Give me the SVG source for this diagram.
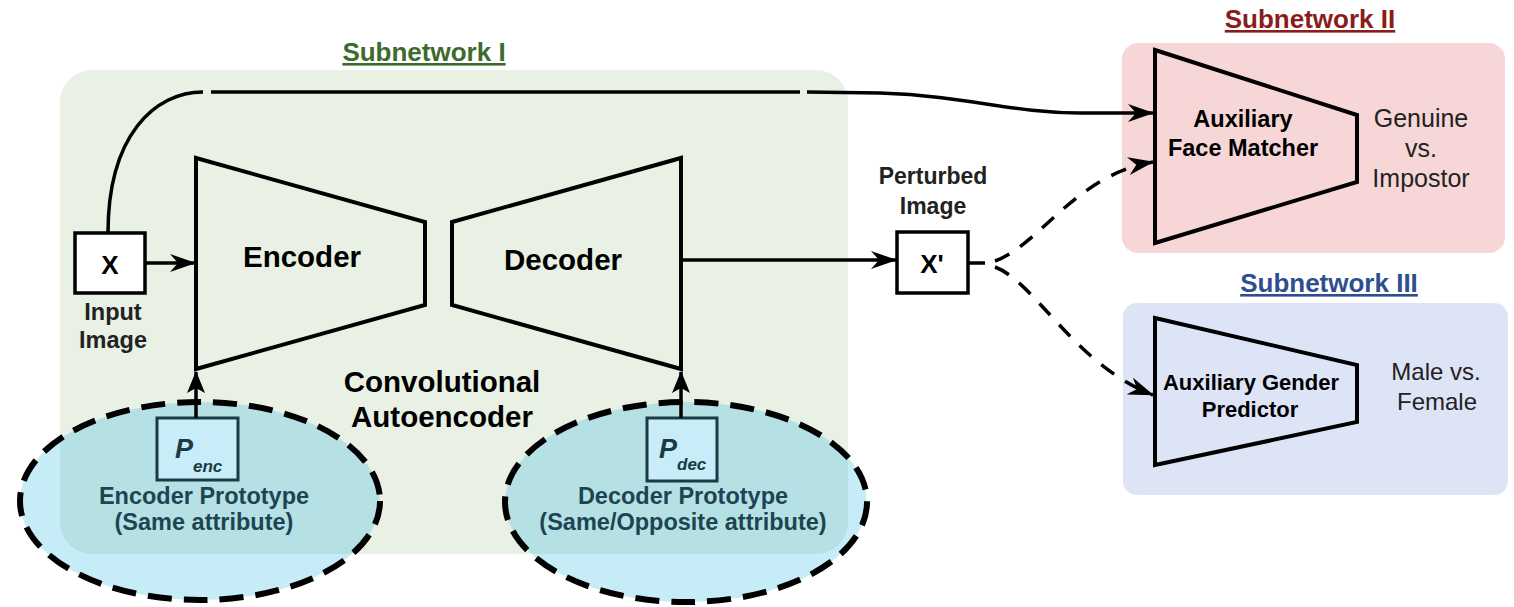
<svg xmlns="http://www.w3.org/2000/svg" width="1514" height="607" viewBox="0 0 1514 607">
<style>
text{font-family:"Liberation Sans",Arial,sans-serif;}
.b{font-weight:bold;}
.title{font-weight:bold;font-size:26px;text-anchor:middle;text-decoration:underline;}
.trap{fill:none;stroke:#000;stroke-width:4;stroke-linejoin:miter;}
.conn{fill:none;stroke:#000;stroke-width:3.5;}
.dash{fill:none;stroke:#000;stroke-width:3.5;stroke-dasharray:16 13;}
.proto{fill:rgb(36,182,228);fill-opacity:0.26;stroke:#000;stroke-width:6;stroke-dasharray:24 12;}
.pbox{fill:#c8ecf8;stroke:#1a3a44;stroke-width:3;}
.ptxt{fill:#1d4452;font-weight:bold;font-size:23.5px;text-anchor:middle;}
.box{fill:#fff;stroke:#000;stroke-width:3.5;}
</style>
<defs>
<marker id="arr" viewBox="0 0 26 18" refX="25" refY="9" markerWidth="26" markerHeight="18" markerUnits="userSpaceOnUse" orient="auto">
<path d="M0,0 L26,9 L0,18 L8,9 z" fill="#000"/>
</marker>
<marker id="arrS" viewBox="0 0 22 18" refX="21" refY="9" markerWidth="22" markerHeight="18" markerUnits="userSpaceOnUse" orient="auto">
<path d="M0,0 L22,9 L0,18 L5,9 z" fill="#000"/>
</marker>
</defs>
<rect width="1514" height="607" fill="#fff"/>

<g id="subnetwork1">
<rect x="60" y="70" width="788" height="484" rx="32" fill="#e8f1e4"/>
<text class="title" x="424" y="61" fill="#3d6b2e">Subnetwork I</text>
<text class="b" x="442" y="392" font-size="29.5" text-anchor="middle">Convolutional</text>
<text class="b" x="442" y="427" font-size="29.5" text-anchor="middle">Autoencoder</text>
</g>

<g id="subnetwork2">
<rect x="1122" y="43" width="383" height="210" rx="16" fill="#f6d6d6"/>
<text class="title" x="1310" y="28" fill="#8b1c1c">Subnetwork II</text>
</g>

<g id="subnetwork3">
<rect x="1123" y="303" width="385" height="192" rx="14" fill="#dce4f6"/>
<text class="title" x="1329" y="292" fill="#2e4f8f">Subnetwork III</text>
</g>

<g id="enc-proto">
<ellipse class="proto" cx="200" cy="501" rx="180" ry="99"/>
<text class="ptxt" x="204" y="504">Encoder Prototype</text>
<text class="ptxt" x="204" y="530">(Same attribute)</text>
</g>

<g id="dec-proto">
<ellipse class="proto" cx="686" cy="502" rx="181" ry="100"/>
<text class="ptxt" x="683" y="504">Decoder Prototype</text>
<text class="ptxt" x="683" y="530">(Same/Opposite attribute)</text>
</g>

<g id="input">
<rect class="box" x="75" y="233" width="70" height="60"/>
<text class="b" x="110" y="274" font-size="26" text-anchor="middle">X</text>
<text class="b" x="113" y="320" font-size="23.5" text-anchor="middle" fill="#222">Input</text>
<text class="b" x="113" y="348" font-size="23.5" text-anchor="middle" fill="#222">Image</text>
</g>

<g id="encoder">
<path class="trap" d="M196,158 L425,222 L425,305 L196,369 Z"/>
<text class="b" x="302" y="267" font-size="29.5" text-anchor="middle">Encoder</text>
</g>

<g id="decoder">
<path class="trap" d="M452,222 L681,158 L681,369 L452,305 Z"/>
<text class="b" x="563" y="270" font-size="29.5" text-anchor="middle">Decoder</text>
</g>

<g id="p-enc">
<rect class="pbox" x="157" y="418" width="81" height="62"/>
<text x="175" y="458" font-size="27" font-weight="bold" font-style="italic" fill="#1a3a44">P<tspan font-size="17" dy="14">enc</tspan></text>
</g>

<g id="p-dec">
<rect class="pbox" x="647" y="418" width="70" height="63"/>
<text x="659" y="458" font-size="27" font-weight="bold" font-style="italic" fill="#1a3a44">P<tspan font-size="17" dy="12">dec</tspan></text>
</g>

<g id="perturbed">
<rect class="box" x="897" y="232" width="71" height="61"/>
<text class="b" x="932" y="273" font-size="26" text-anchor="middle">X'</text>
<text class="b" x="933" y="184" font-size="23" text-anchor="middle" fill="#222">Perturbed</text>
<text class="b" x="933" y="214" font-size="23" text-anchor="middle" fill="#222">Image</text>
</g>

<g id="face-matcher">
<path class="trap" d="M1155,50 L1357,115 L1357,182 L1155,243 Z"/>
<text class="b" x="1243" y="127" font-size="23.5" text-anchor="middle">Auxiliary</text>
<text class="b" x="1243" y="156" font-size="23.5" text-anchor="middle">Face Matcher</text>
<text x="1421" y="127" font-size="25" text-anchor="middle" fill="#222">Genuine</text>
<text x="1421" y="157" font-size="25" text-anchor="middle" fill="#222">vs.</text>
<text x="1421" y="187" font-size="25" text-anchor="middle" fill="#222">Impostor</text>
</g>

<g id="gender-predictor">
<path class="trap" d="M1155,318 L1357,365 L1357,422 L1155,465 Z"/>
<text class="b" x="1251" y="390" font-size="22" text-anchor="middle">Auxiliary Gender</text>
<text class="b" x="1250" y="417" font-size="22" text-anchor="middle">Predictor</text>
<text x="1436" y="380" font-size="24" text-anchor="middle" fill="#222">Male vs.</text>
<text x="1437" y="410" font-size="24" text-anchor="middle" fill="#222">Female</text>
</g>

<g id="connectors">
<path class="conn" d="M108,233 C108,135 155,92 203,92"/>
<path class="conn" d="M211,92 L800,92"/>
<path class="conn" d="M807,92 L880,93 C970,96 1010,113 1080,113 L1153,113" marker-end="url(#arr)"/>
<path class="conn" d="M145,263 L195,263" marker-end="url(#arr)"/>
<path class="conn" d="M681,260 L896,260" marker-end="url(#arr)"/>
<path class="conn" d="M968,263 L985,263"/>
<path class="dash" d="M995,261 C1040,245 1075,175 1153,162" marker-end="url(#arr)"/>
<path class="dash" d="M995,267 C1035,282 1075,365 1153,395" marker-end="url(#arr)"/>
<path class="conn" stroke-width="3" d="M196,418 L196,372" marker-end="url(#arrS)"/>
<path class="conn" stroke-width="3" d="M681,418 L681,372" marker-end="url(#arrS)"/>
</g>
</svg>
